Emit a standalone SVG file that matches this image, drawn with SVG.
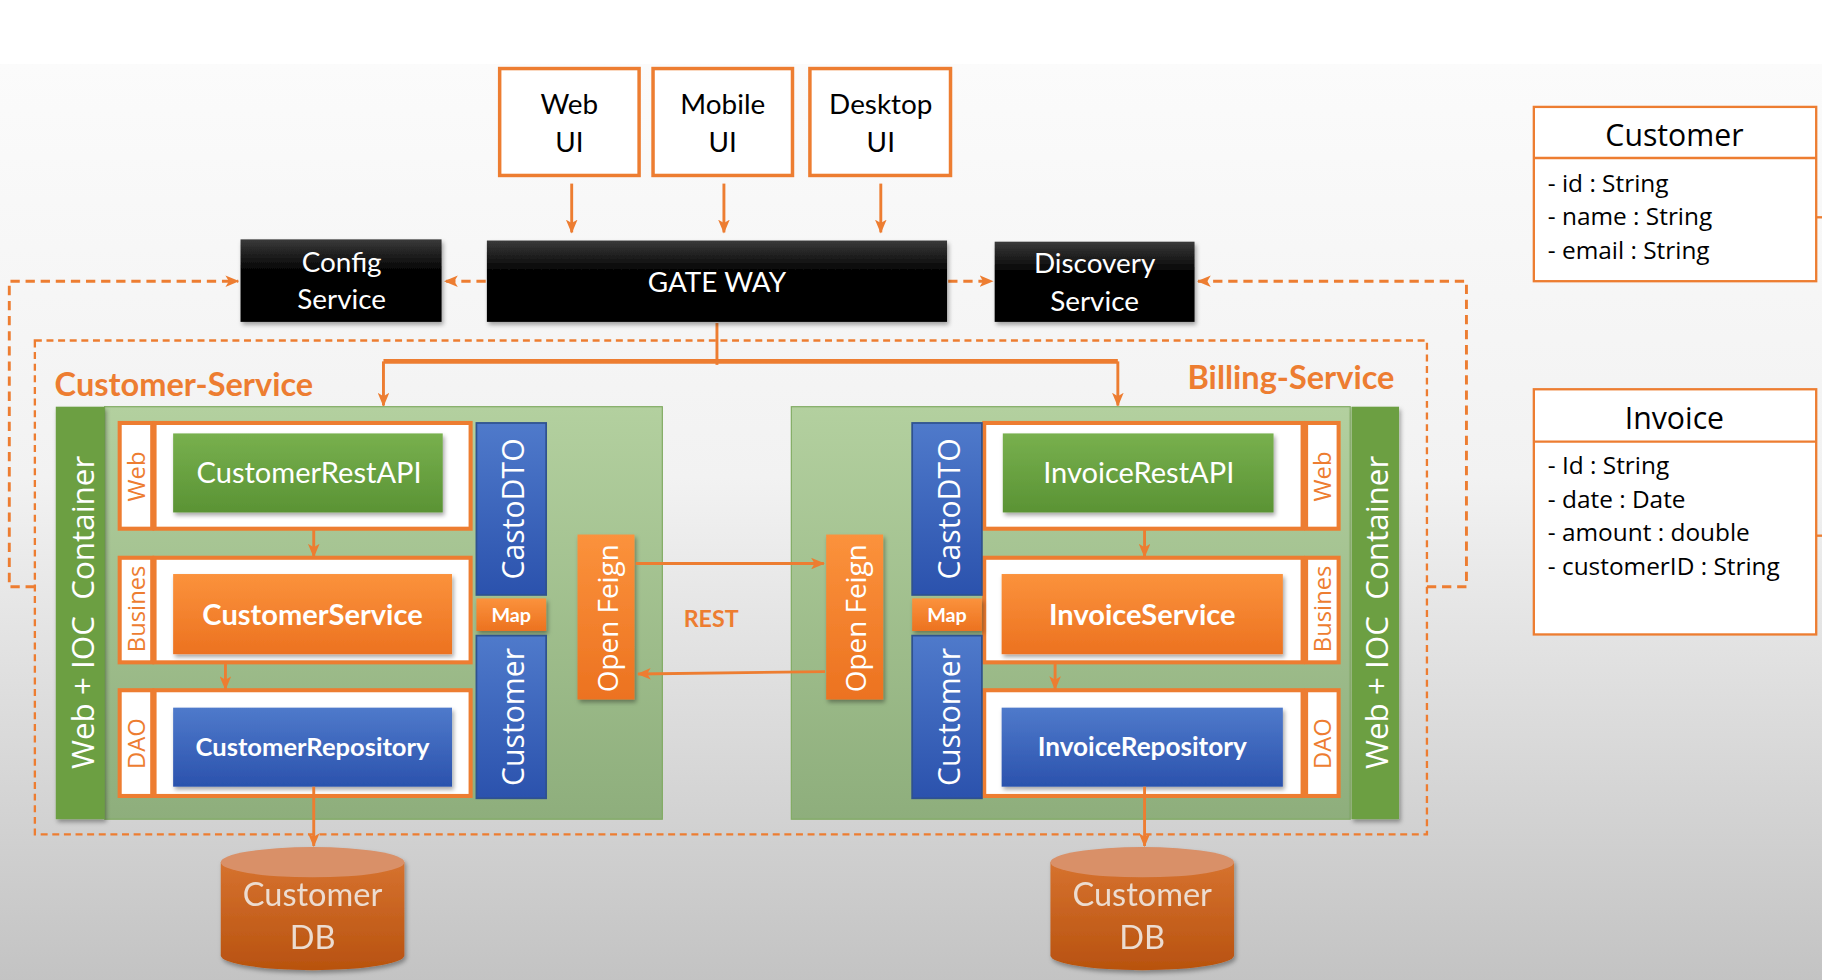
<svg xmlns="http://www.w3.org/2000/svg" width="1822" height="980" viewBox="0 0 1822 980">
<defs>
<linearGradient id="bg" x1="0" y1="0" x2="0" y2="1"><stop offset="0" stop-color="#fbfbfb"/><stop offset="0.45" stop-color="#f2f2f2"/><stop offset="1" stop-color="#c3c3c3"/></linearGradient>
<linearGradient id="blk" x1="0" y1="0" x2="0" y2="1"><stop offset="0" stop-color="#3a3a3a"/><stop offset="0.4" stop-color="#000"/><stop offset="1" stop-color="#000"/></linearGradient>
<linearGradient id="panel" x1="0" y1="0" x2="0" y2="1"><stop offset="0" stop-color="#b3d09f"/><stop offset="1" stop-color="#8eae7c"/></linearGradient>
<linearGradient id="grn" x1="0" y1="0" x2="0" y2="1"><stop offset="0" stop-color="#78b04e"/><stop offset="1" stop-color="#5a9334"/></linearGradient>
<linearGradient id="org" x1="0" y1="0" x2="0" y2="1"><stop offset="0" stop-color="#fb923c"/><stop offset="1" stop-color="#ec7220"/></linearGradient>
<linearGradient id="blu" x1="0" y1="0" x2="0" y2="1"><stop offset="0" stop-color="#4f7acb"/><stop offset="1" stop-color="#2b52ad"/></linearGradient>
<linearGradient id="dbg" x1="0" y1="0" x2="0" y2="1"><stop offset="0" stop-color="#d6722f"/><stop offset="1" stop-color="#b8520f"/></linearGradient>
<filter id="sh" x="-10%" y="-10%" width="130%" height="140%"><feDropShadow dx="1.5" dy="2.5" stdDeviation="2" flood-color="#000" flood-opacity="0.35"/></filter>
<marker id="ar" viewBox="0 0 12 10" refX="11" refY="5" markerWidth="12" markerHeight="10" markerUnits="userSpaceOnUse" orient="auto"><path d="M0,0 L12,5 L0,10 L3,5 z" fill="#ed7d31"/></marker>
<style>
.ob{fill:#fff;stroke:#ed7d31;stroke-width:3}
.lbl{font-family:Lato,"Liberation Sans",sans-serif}
.os{font-family:"Open Sans","DejaVu Sans",sans-serif}
.wt{fill:#fff}
.ln{fill:none;stroke:#ed7d31;stroke-width:2.5}
.dl{fill:none;stroke:#ed7d31;stroke-width:2.5;stroke-dasharray:8 5}
.lay{fill:#fff;stroke:#ed7d31;stroke-width:3.5}
.bar{fill:url(#blu);stroke:#2f528f;stroke-width:1.5}
.tag{font-family:"Open Sans","DejaVu Sans",sans-serif;font-size:20.5px;fill:#ed7d31}
</style>
</defs>
<rect width="1822" height="980" fill="#fff"/>
<g transform="scale(1.162)">
<rect x="0" y="55" width="1568" height="790" fill="url(#bg)"/>

<g id="connectors">
<path class="ln" d="M492,158 V200" marker-end="url(#ar)"/>
<path class="ln" d="M623,158 V200" marker-end="url(#ar)"/>
<path class="ln" d="M758,158 V200" marker-end="url(#ar)"/>
<path class="dl" d="M418,242 H383" marker-end="url(#ar)"/>
<path class="dl" d="M816,242 H854" marker-end="url(#ar)"/>
<path class="dl" d="M30,505 H8 V242 H205" marker-end="url(#ar)"/>
<path class="dl" d="M1228,505 H1262 V242 H1031" marker-end="url(#ar)"/>
<rect x="30" y="293" width="1198" height="425" fill="none" stroke="#ed7d31" stroke-width="2" stroke-dasharray="6 4"/>
<path fill="none" stroke="#ed7d31" stroke-width="2.5" d="M617,278 V314"/>
<path fill="none" stroke="#ed7d31" stroke-width="4" d="M330,311 H962"/>
<path class="ln" d="M330,311 V349" marker-end="url(#ar)"/>
<path class="ln" d="M962,311 V349" marker-end="url(#ar)"/>
</g>

<g id="web-ui"><rect class="ob" x="430" y="59" width="120" height="92"/><text class="lbl" x="490" y="98" font-size="24" text-anchor="middle">Web</text><text class="lbl" x="490" y="131" font-size="24" text-anchor="middle">UI</text></g>
<g id="mobile-ui"><rect class="ob" x="562" y="59" width="120" height="92"/><text class="lbl" x="622" y="98" font-size="24" text-anchor="middle">Mobile</text><text class="lbl" x="622" y="131" font-size="24" text-anchor="middle">UI</text></g>
<g id="desktop-ui"><rect class="ob" x="697" y="59" width="121" height="92"/><text class="lbl" x="758" y="98" font-size="24" text-anchor="middle">Desktop</text><text class="lbl" x="758" y="131" font-size="24" text-anchor="middle">UI</text></g>

<g id="config-service"><rect x="207" y="206" width="173" height="71" fill="url(#blk)" filter="url(#sh)"/><text class="lbl wt" x="294" y="234" font-size="24" text-anchor="middle">Config</text><text class="lbl wt" x="294" y="266" font-size="24" text-anchor="middle">Service</text></g>
<g id="gateway"><rect x="419" y="207" width="396" height="70" fill="url(#blk)" filter="url(#sh)"/><text class="lbl wt" x="617" y="251" font-size="24" text-anchor="middle">GATE WAY</text></g>
<g id="discovery-service"><rect x="856" y="208" width="172" height="69" fill="url(#blk)" filter="url(#sh)"/><text class="lbl wt" x="942" y="235" font-size="24" text-anchor="middle">Discovery</text><text class="lbl wt" x="942" y="268" font-size="24" text-anchor="middle">Service</text></g>

<text class="lbl" x="47" y="341" font-size="28" font-weight="bold" fill="#ed7d31">Customer-Service</text>
<text class="lbl" x="1200" y="335" font-size="28" font-weight="bold" fill="#ed7d31" text-anchor="end">Billing-Service</text>

<g id="customer-service">
<rect x="90" y="350" width="480" height="355" fill="url(#panel)" stroke="#7faa60" stroke-width="1"/>
<g id="cs-ioc"><rect x="48" y="350" width="42" height="355" fill="#6c9f43" filter="url(#sh)"/><text class="os wt" transform="translate(70,527) rotate(-90)" font-size="27" text-anchor="middle" dominant-baseline="central" xml:space="preserve">Web + IOC  Container</text></g>
<g id="cs-web"><rect class="lay" x="103" y="364" width="28" height="91"/><rect class="lay" x="133" y="364" width="272" height="91"/><text class="tag" transform="translate(117,410) rotate(-90)" text-anchor="middle" dominant-baseline="central">Web</text></g>
<g id="customer-rest-api"><rect x="149" y="373" width="232" height="68" fill="url(#grn)" filter="url(#sh)"/><text class="lbl wt" x="266" y="416" font-size="25" text-anchor="middle">CustomerRestAPI</text></g>
<g id="cs-busines"><rect class="lay" x="103" y="480" width="28" height="90"/><rect class="lay" x="133" y="480" width="272" height="90"/><text class="tag" transform="translate(117,524) rotate(-90)" text-anchor="middle" dominant-baseline="central">Busines</text></g>
<g id="customer-service-box"><rect x="149" y="494" width="240" height="69" fill="url(#org)" filter="url(#sh)"/><text class="lbl wt" x="269" y="538" font-size="25" font-weight="bold" text-anchor="middle">CustomerService</text></g>
<g id="cs-dao"><rect class="lay" x="103" y="594" width="28" height="91"/><rect class="lay" x="133" y="594" width="272" height="91"/><text class="tag" transform="translate(117,640) rotate(-90)" text-anchor="middle" dominant-baseline="central">DAO</text></g>
<g id="customer-repository"><rect x="149" y="609" width="240" height="68" fill="url(#blu)" filter="url(#sh)"/><text class="lbl wt" x="269" y="651" font-size="22" font-weight="bold" text-anchor="middle">CustomerRepository</text></g>
<g id="cs-castodto"><rect class="bar" x="410" y="364" width="60" height="148"/><text class="os wt" transform="translate(441,438) rotate(-90)" font-size="26" text-anchor="middle" dominant-baseline="central">CastoDTO</text></g>
<g id="cs-map"><rect x="410" y="515" width="60" height="28" fill="url(#org)" filter="url(#sh)"/><text class="lbl wt" x="440" y="535" font-size="17" font-weight="bold" text-anchor="middle">Map</text></g>
<g id="cs-customer"><rect class="bar" x="410" y="547" width="60" height="140"/><text class="os wt" transform="translate(441,617) rotate(-90)" font-size="26" text-anchor="middle" dominant-baseline="central">Customer</text></g>
<g id="cs-openfeign"><rect x="497" y="460" width="49" height="142" fill="url(#org)" filter="url(#sh)"/><text class="os wt" transform="translate(522,532) rotate(-90)" font-size="24" text-anchor="middle" dominant-baseline="central">Open Feign</text></g>
</g>

<g id="billing-service">
<rect x="681" y="350" width="481" height="355" fill="url(#panel)" stroke="#7faa60" stroke-width="1"/>
<g id="bs-ioc"><rect x="1163" y="350" width="41" height="355" fill="#6c9f43" filter="url(#sh)"/><text class="os wt" transform="translate(1184,527) rotate(-90)" font-size="27" text-anchor="middle" dominant-baseline="central" xml:space="preserve">Web + IOC  Container</text></g>
<g id="bs-web"><rect class="lay" x="847" y="364" width="274" height="91"/><rect class="lay" x="1124" y="364" width="28" height="91"/><text class="tag" transform="translate(1138,410) rotate(-90)" text-anchor="middle" dominant-baseline="central">Web</text></g>
<g id="invoice-rest-api"><rect x="863" y="373" width="233" height="68" fill="url(#grn)" filter="url(#sh)"/><text class="lbl wt" x="980" y="416" font-size="25" text-anchor="middle">InvoiceRestAPI</text></g>
<g id="bs-busines"><rect class="lay" x="847" y="480" width="274" height="90"/><rect class="lay" x="1124" y="480" width="28" height="90"/><text class="tag" transform="translate(1138,524) rotate(-90)" text-anchor="middle" dominant-baseline="central">Busines</text></g>
<g id="invoice-service"><rect x="862" y="494" width="242" height="69" fill="url(#org)" filter="url(#sh)"/><text class="lbl wt" x="983" y="538" font-size="25" font-weight="bold" text-anchor="middle">InvoiceService</text></g>
<g id="bs-dao"><rect class="lay" x="847" y="594" width="274" height="91"/><rect class="lay" x="1124" y="594" width="28" height="91"/><text class="tag" transform="translate(1138,640) rotate(-90)" text-anchor="middle" dominant-baseline="central">DAO</text></g>
<g id="invoice-repository"><rect x="862" y="609" width="242" height="68" fill="url(#blu)" filter="url(#sh)"/><text class="lbl wt" x="983" y="651" font-size="22.5" font-weight="bold" text-anchor="middle">InvoiceRepository</text></g>
<g id="bs-castodto"><rect class="bar" x="785" y="364" width="60" height="148"/><text class="os wt" transform="translate(816,438) rotate(-90)" font-size="26" text-anchor="middle" dominant-baseline="central">CastoDTO</text></g>
<g id="bs-map"><rect x="785" y="515" width="60" height="28" fill="url(#org)" filter="url(#sh)"/><text class="lbl wt" x="815" y="535" font-size="17" font-weight="bold" text-anchor="middle">Map</text></g>
<g id="bs-customer"><rect class="bar" x="785" y="547" width="60" height="140"/><text class="os wt" transform="translate(816,617) rotate(-90)" font-size="26" text-anchor="middle" dominant-baseline="central">Customer</text></g>
<g id="bs-openfeign"><rect x="711" y="460" width="49" height="142" fill="url(#org)" filter="url(#sh)"/><text class="os wt" transform="translate(736,532) rotate(-90)" font-size="24" text-anchor="middle" dominant-baseline="central">Open Feign</text></g>
</g>

<g id="connectors-inner">
<path class="ln" d="M270,455 V479" marker-end="url(#ar)"/>
<path class="ln" d="M194,570 V593" marker-end="url(#ar)"/>
<path class="ln" d="M270,677 V728" marker-end="url(#ar)"/>
<path class="ln" d="M985,455 V479" marker-end="url(#ar)"/>
<path class="ln" d="M908,570 V593" marker-end="url(#ar)"/>
<path class="ln" d="M985,677 V728" marker-end="url(#ar)"/>
<path class="ln" d="M547,485 H709" marker-end="url(#ar)"/>
<path class="ln" d="M710,578 L549,580" marker-end="url(#ar)"/>
</g>
<text class="lbl" x="612" y="540" font-size="20" font-weight="bold" fill="#ed7d31" text-anchor="middle">REST</text>

<g id="customer-db" filter="url(#sh)"><path d="M190,742 V822 A79,13 0 0 0 348,822 V742 Z" fill="url(#dbg)"/><ellipse cx="269" cy="742" rx="79" ry="13" fill="#d99068"/><text class="lbl" x="269" y="780" font-size="28" fill="#ecdcd0" text-anchor="middle">Customer</text><text class="lbl" x="269" y="817" font-size="28" fill="#ecdcd0" text-anchor="middle">DB</text></g>
<g id="billing-db" filter="url(#sh)"><path d="M904,742 V822 A79,13 0 0 0 1062,822 V742 Z" fill="url(#dbg)"/><ellipse cx="983" cy="742" rx="79" ry="13" fill="#d99068"/><text class="lbl" x="983" y="780" font-size="28" fill="#ecdcd0" text-anchor="middle">Customer</text><text class="lbl" x="983" y="817" font-size="28" fill="#ecdcd0" text-anchor="middle">DB</text></g>

<g id="customer-class">
<rect x="1320" y="92" width="243" height="150" fill="#fff" stroke="#ed7d31" stroke-width="2"/>
<line x1="1320" y1="136" x2="1563" y2="136" stroke="#ed7d31" stroke-width="2"/>
<line x1="1563" y1="187" x2="1568" y2="187" stroke="#ed7d31" stroke-width="2"/>
<text class="os" x="1441" y="126" font-size="26" text-anchor="middle">Customer</text>
<text class="os" x="1332" y="165" font-size="21">- id : String</text>
<text class="os" x="1332" y="194" font-size="21">- name : String</text>
<text class="os" x="1332" y="223" font-size="21">- email : String</text>
</g>
<g id="invoice-class">
<rect x="1320" y="335" width="243" height="211" fill="#fff" stroke="#ed7d31" stroke-width="2"/>
<line x1="1320" y1="380" x2="1563" y2="380" stroke="#ed7d31" stroke-width="2"/>
<line x1="1563" y1="461" x2="1568" y2="461" stroke="#ed7d31" stroke-width="2"/>
<text class="os" x="1441" y="369" font-size="26" text-anchor="middle">Invoice</text>
<text class="os" x="1332" y="408" font-size="21">- Id : String</text>
<text class="os" x="1332" y="437" font-size="21">- date : Date</text>
<text class="os" x="1332" y="466" font-size="21">- amount : double</text>
<text class="os" x="1332" y="495" font-size="21">- customerID : String</text>
</g>
</g>
</svg>
